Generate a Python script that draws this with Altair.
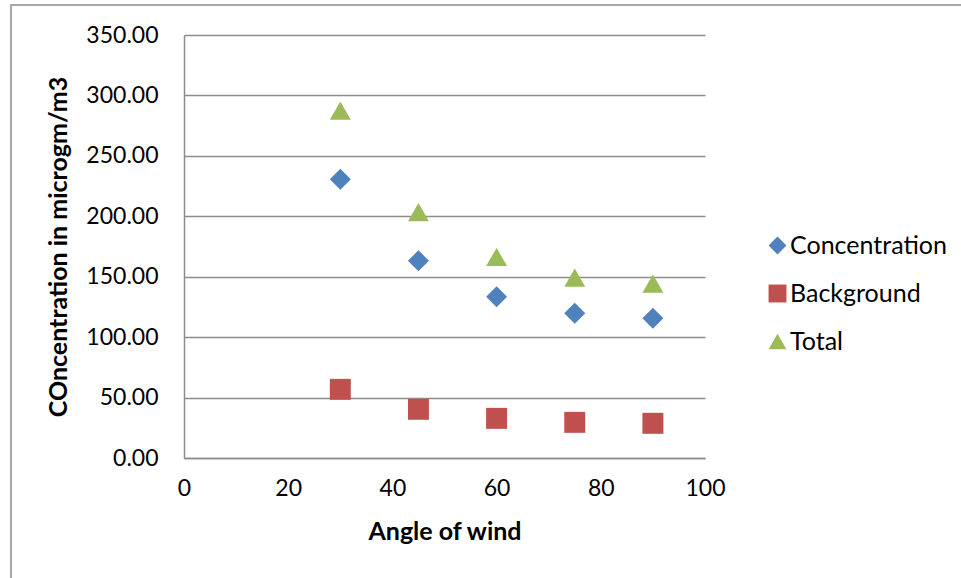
import altair as alt
import pandas as pd

angles = [30, 45, 60, 75, 90]
concentration = [230.6, 163.2, 133.5, 119.7, 115.6]
background = [56.8, 40.3, 32.8, 29.5, 28.7]
total = [287.4, 203.5, 166.3, 149.2, 144.3]

series_names = ["Concentration", "Background", "Total"]
series_colors = ["#4F81BD", "#C0504D", "#9BBB59"]
series_shapes = ["diamond", "square", "triangle-up"]

rows = []
for name, vals in zip(series_names, [concentration, background, total]):
    for a, v in zip(angles, vals):
        rows.append({"angle": a, "value": v, "series": name})
df = pd.DataFrame(rows)

FONT = "Lato"
GRID = "#8c8c8c"

points = alt.Chart(df).mark_point(filled=True, opacity=1, size=440).encode(
    x=alt.X("angle:Q",
            scale=alt.Scale(domain=[0, 100], nice=False, zero=True),
            axis=alt.Axis(values=[0, 20, 40, 60, 80, 100], format="d",
                          title="Angle of wind", grid=False, ticks=False,
                          labelFlush=False,
                          labelPadding=19, titlePadding=19,
                          domainColor=GRID, domainWidth=1.5)),
    y=alt.Y("value:Q",
            scale=alt.Scale(domain=[0, 350], nice=False),
            axis=alt.Axis(values=[0, 50, 100, 150, 200, 250, 300, 350], format=".2f",
                          title="COncentration in microgm/m3", grid=True, ticks=False,
                          labelFlush=False,
                          labelPadding=26, titlePadding=14,
                          gridColor=GRID, gridWidth=1.5,
                          domainColor=GRID, domainWidth=1.5)),
    color=alt.Color("series:N",
                    scale=alt.Scale(domain=series_names, range=series_colors),
                    legend=alt.Legend(title=None, orient="none", legendX=581, legendY=198,
                                      symbolSize=320, labelOffset=0, rowPadding=22,
                                      padding=0)),
    shape=alt.Shape("series:N",
                    scale=alt.Scale(domain=series_names, range=series_shapes)),
)

border = alt.Chart(pd.DataFrame({"k": [0]})).mark_rect(
    fill=None, stroke=GRID, strokeWidth=1.5
).encode(
    x=alt.value(-173), x2=alt.value(961 - 184 + 20),
    y=alt.value(-30), y2=alt.value(578 - 35 + 20),
)

chart = alt.layer(border, points).properties(
    width=521, height=423,
    background="white",
    autosize=alt.AutoSizeParams(type="none"),
    padding={"left": 184, "top": 35, "right": 256, "bottom": 120},
).configure_view(stroke=None).configure_axis(
    labelFont=FONT, titleFont=FONT, labelFontSize=23, titleFontSize=25,
    labelColor="#000000", titleColor="#000000", titleFontWeight="bold",
).configure_legend(
    labelFont=FONT, labelFontSize=25, labelColor="#000000",
)

chart.save("out.html", embed_options={"renderer": "svg", "actions": False})
